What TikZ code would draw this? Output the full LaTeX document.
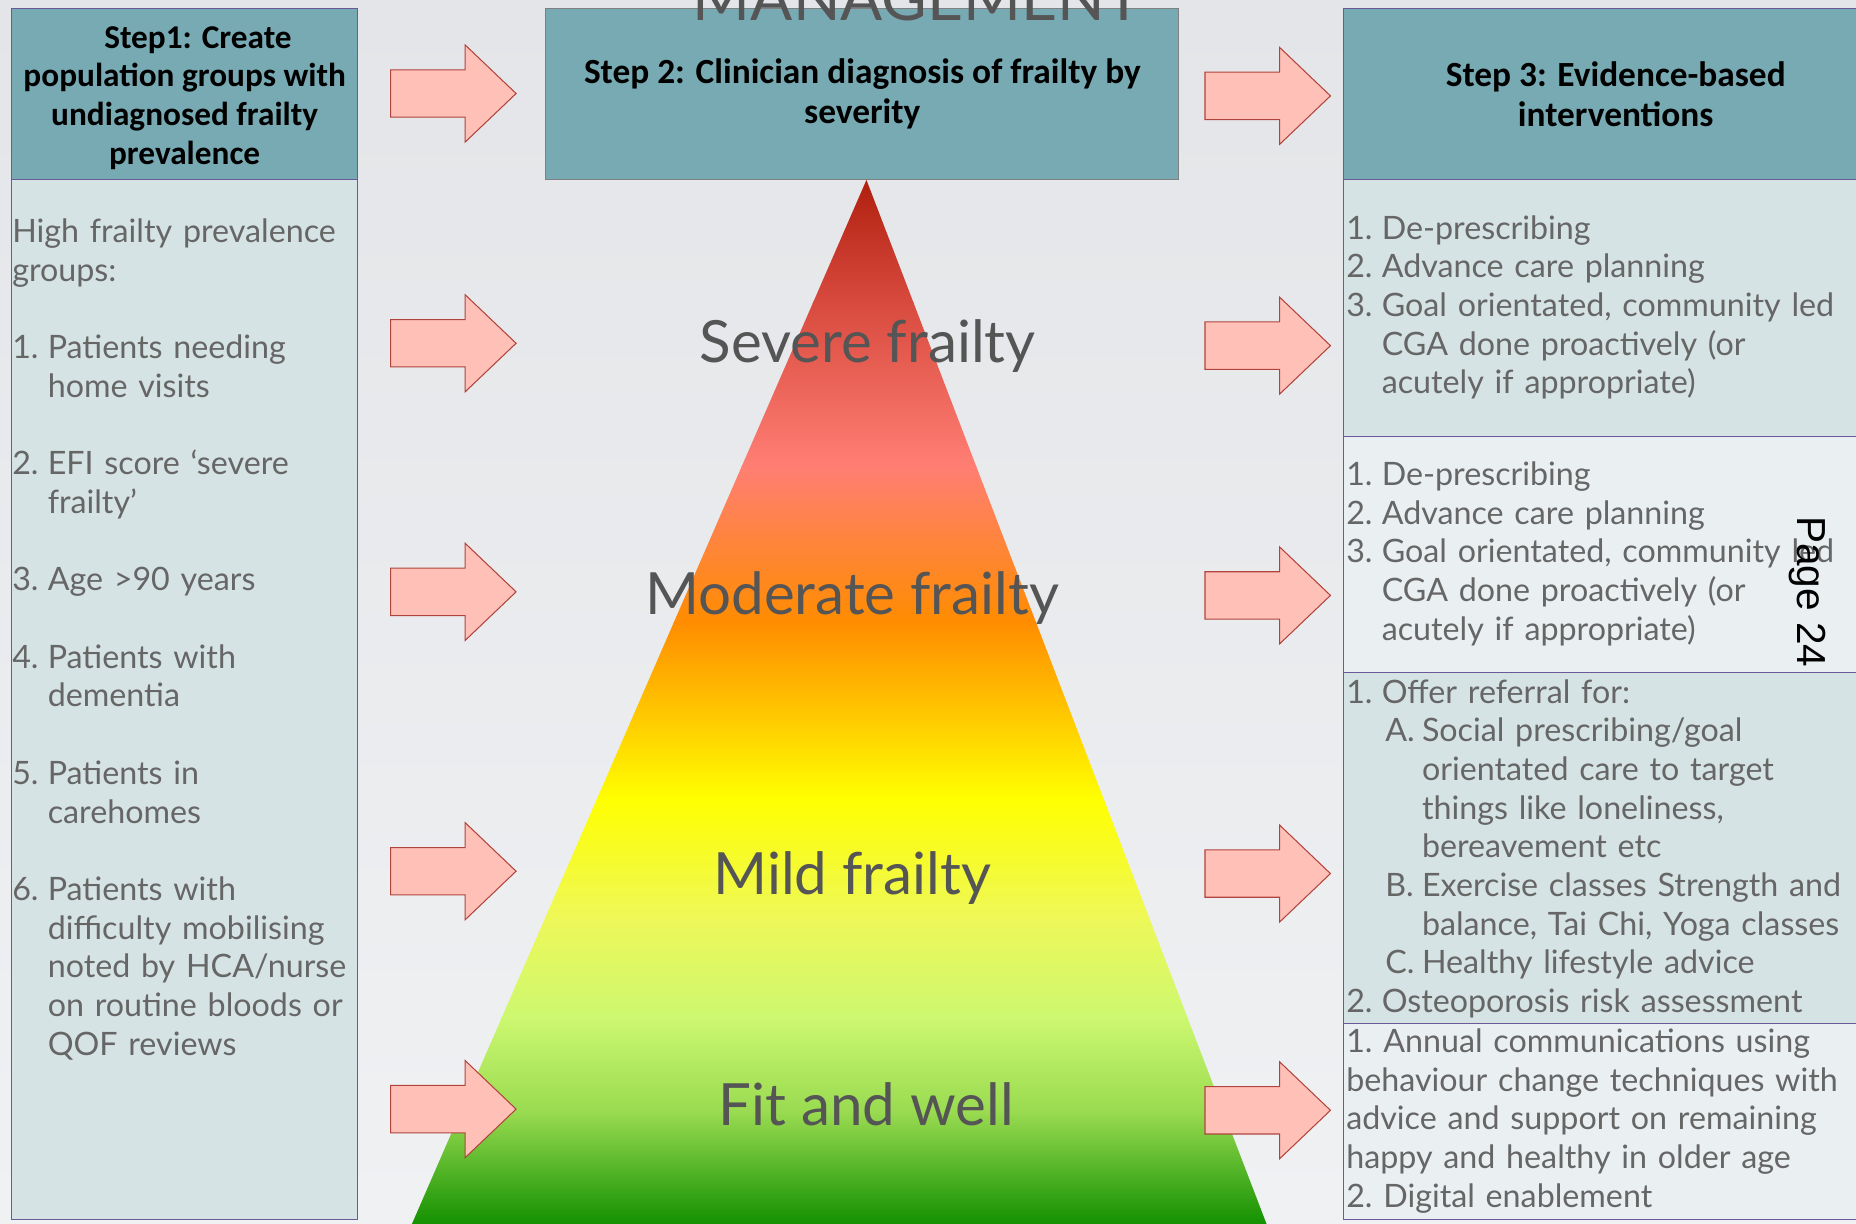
\documentclass[tikz,border=0pt]{standalone}
\usepackage{fontspec}
\setmainfont{Lato}
\newfontfamily\headfont{Carlito}
\newfontfamily\pagefont{Liberation Sans}
\usetikzlibrary{positioning}

\definecolor{bgtop}{HTML}{E3E5E8}
\definecolor{bgbot}{HTML}{F0F1F3}
\definecolor{hdteal}{HTML}{78AAB4}
\definecolor{celllight}{HTML}{D6E3E4}
\definecolor{cellpale}{HTML}{EAF0F2}
\definecolor{colline}{HTML}{6A5A9A}
\definecolor{txtgray}{HTML}{666666}
\definecolor{lvlgray}{HTML}{555555}
\definecolor{arrowfill}{HTML}{FFC0B8}
\definecolor{arrowline}{HTML}{B0443C}
% pyramid colours, top to bottom
\definecolor{pa}{HTML}{B0200F}
\definecolor{pb}{HTML}{D84A3E}
\definecolor{pc}{HTML}{FF7E74}
\definecolor{pd}{HTML}{FF8C00}
\definecolor{pe}{HTML}{FFFF00}
\definecolor{pf}{HTML}{EEF858}
\definecolor{pg}{HTML}{CCF870}
\definecolor{ph}{HTML}{98DA50}
\definecolor{pi}{HTML}{129000}

\newcommand\nm[1]{\makebox[0.6cm][l]{#1}}
\newcommand\hang{\hspace*{0.6cm}}
\newcommand\subnm[1]{\hspace*{0.66cm}\makebox[0.62cm][l]{#1}}
\newcommand\subhang{\hspace*{1.28cm}}

\tikzset{
  headbox/.style={draw=colline, fill=hdteal, line width=0.5pt, inner sep=0pt,
    align=center, font=\headfont\bfseries\fontsize{17}{19.4}\selectfont},
  cellbox/.style={draw=colline, line width=0.5pt},
  bodytext/.style={anchor=base west, inner sep=0pt, align=left, text=txtgray,
    font=\frenchspacing\fontsize{15.5}{18.6}\selectfont},
  levellabel/.style={anchor=base, inner sep=0pt, text=lvlgray,
    font=\fontsize{28}{32}\selectfont},
  blockarrow/.style={draw=arrowline, fill=arrowfill, line width=0.5pt},
}

\begin{document}
\begin{tikzpicture}[x=0.2mm, y=-0.2mm]
\useasboundingbox (0,0) rectangle (1568,1034);
\clip (0,0) rectangle (1568,1034);
\shade[top color=bgtop, bottom color=bgbot] (0,0) rectangle (1568,1034);

% pyramid
\begin{scope}
\clip (732,152) -- (348,1034) -- (1070,1034) -- cycle;
\foreach \ya/\ca/\yb/\cb in {152/pa/255/pb, 255/pb/393/pc, 393/pc/525/pd,
    525/pd/674/pe, 674/pe/775/pf, 775/pf/860/pg, 860/pg/940/ph, 940/ph/1034/pi}
  \shade[top color=\ca, bottom color=\cb] (340,\ya) rectangle (1080,\yb+1);
\end{scope}

% step 1 column
\node[headbox, font=\headfont\bfseries\fontsize{16}{18.6}\selectfont,
  minimum width=292*0.2mm, minimum height=145*0.2mm] (step1) at (156,79.5)
  {\rule{0pt}{14pt}\hspace*{0.8em}Step1: Create\\population groups with\\undiagnosed frailty\\prevalence};
\draw[cellbox, fill=celllight] (10,152) rectangle (302,1030);
\node[bodytext, text width=7cm] (groups) at (10,205) {High frailty prevalence\\groups:\\[18.6pt]
  \nm{1.}Patients needing\\\hang home visits\\[18.6pt]
  \nm{2.}EFI score ‘severe\\\hang frailty’\\[18.6pt]
  \nm{3.}Age >90 years\\[18.6pt]
  \nm{4.}Patients with\\\hang dementia\\[18.6pt]
  \nm{5.}Patients in\\\hang carehomes\\[18.6pt]
  \nm{6.}Patients with\\\hang difficulty mobilising\\\hang noted by HCA/nurse\\\hang on routine bloods or\\\hang QOF reviews};

% step 2
\node[headbox, draw=gray, minimum width=535*0.2mm, minimum height=145*0.2mm] (step2) at (728.5,79.5)
  {Step 2: Clinician diagnosis of frailty by\\severity};
\node[anchor=base, inner sep=0pt, text=lvlgray, font=\fontsize{30}{36}\selectfont] (title) at (775,17.5) {MANAGEMENT};

% step 3 column
\node[headbox, minimum width=460*0.2mm, minimum height=145*0.2mm] (step3) at (1365,79.5)
  {Step 3: Evidence-based\\interventions};
\draw[cellbox, fill=celllight] (1135,152) rectangle (1600,369);
\draw[cellbox, fill=cellpale] (1135,369) rectangle (1600,568);
\draw[cellbox, fill=celllight] (1135,568) rectangle (1600,865);
\draw[cellbox, fill=cellpale] (1135,865) rectangle (1600,1030);

\node[bodytext, text width=10cm] (severe-do) at (1137,202) {\nm{1.}De-prescribing\\
  \nm{2.}Advance care planning\\\nm{3.}Goal orientated, community led\\
  \hang CGA done proactively (or\\\hang acutely if appropriate)};
\node[bodytext, text width=10cm] (moderate-do) at (1137,410) {\nm{1.}De-prescribing\\
  \nm{2.}Advance care planning\\\nm{3.}Goal orientated, community led\\
  \hang CGA done proactively (or\\\hang acutely if appropriate)};
\node[bodytext, text width=10cm] (mild-do) at (1137,594) {\nm{1.}Offer referral for:\\
  \subnm{A.}Social prescribing/goal\\\subhang orientated care to target\\
  \subhang things like loneliness,\\\subhang bereavement etc\\
  \subnm{B.}Exercise classes Strength and\\\subhang balance, Tai Chi, Yoga classes\\
  \subnm{C.}Healthy lifestyle advice\\\nm{2.}Osteoporosis risk assessment};
\node[bodytext, text width=10cm] (fit-do) at (1137,889) {1. Annual communications using\\
  behaviour change techniques with\\advice and support on remaining\\
  happy and healthy in older age\\2. Digital enablement};

% level labels
\node[levellabel] (severe) at (733,306) {Severe frailty};
\node[levellabel] (moderate) at (720,519) {Moderate frailty};
\node[levellabel] (mild) at (720,756) {Mild frailty};
\node[levellabel] (fit) at (732,951) {Fit and well};

% block arrows
\foreach \y in {79,290,500,736,937}
  \draw[blockarrow] (330,\y-20) -- (393,\y-20) -- (393,\y-41) -- (436,\y)
    -- (393,\y+41) -- (393,\y+20) -- (330,\y+20) -- cycle;
\foreach \y in {81,292,503,738,938}
  \draw[blockarrow] (1018,\y-20) -- (1081,\y-20) -- (1081,\y-41) -- (1124,\y)
    -- (1081,\y+41) -- (1081,\y+20) -- (1018,\y+20) -- cycle;

\node[rotate=-90, inner sep=0pt, font=\pagefont\fontsize{19.5}{22}\selectfont] (page) at (1527,500) {Page 24};
\end{tikzpicture}
\end{document}
